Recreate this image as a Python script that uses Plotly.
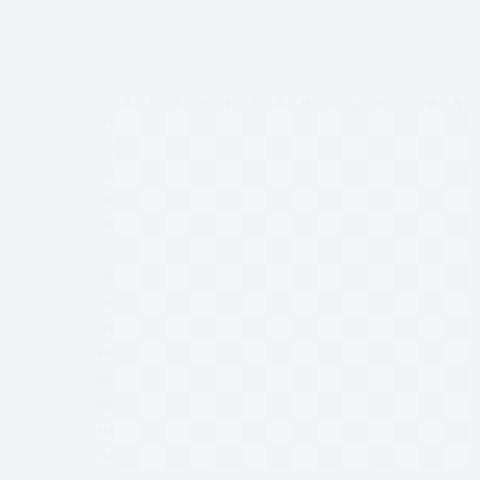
import plotly.graph_objects as go

# faint grid of cells, the reference is almost fully washed out
cols = ["A", "B", "C", "D", "E", "F", "G", "H", "I", "J", "K", "L", "M", "N"]
rows = ["r1", "r2", "r3", "r4", "r5", "r6", "r7", "r8", "r9", "r10", "r11", "r12", "r13", "r14"]
values = [
    [1, 2, 1, 2, 1, 2, 1, 2, 1, 2, 1, 2, 1, 2],
    [2, 1, 2, 1, 2, 1, 2, 1, 2, 1, 2, 1, 2, 1],
    [1, 2, 1, 2, 1, 2, 1, 2, 1, 2, 1, 2, 1, 2],
    [2, 1, 2, 1, 2, 1, 2, 1, 2, 1, 2, 1, 2, 1],
    [1, 2, 1, 2, 1, 2, 1, 2, 1, 2, 1, 2, 1, 2],
    [2, 1, 2, 1, 2, 1, 2, 1, 2, 1, 2, 1, 2, 1],
    [1, 2, 1, 2, 1, 2, 1, 2, 1, 2, 1, 2, 1, 2],
    [2, 1, 2, 1, 2, 1, 2, 1, 2, 1, 2, 1, 2, 1],
    [1, 2, 1, 2, 1, 2, 1, 2, 1, 2, 1, 2, 1, 2],
    [2, 1, 2, 1, 2, 1, 2, 1, 2, 1, 2, 1, 2, 1],
    [1, 2, 1, 2, 1, 2, 1, 2, 1, 2, 1, 2, 1, 2],
    [2, 1, 2, 1, 2, 1, 2, 1, 2, 1, 2, 1, 2, 1],
    [1, 2, 1, 2, 1, 2, 1, 2, 1, 2, 1, 2, 1, 2],
    [2, 1, 2, 1, 2, 1, 2, 1, 2, 1, 2, 1, 2, 1],
]

fig = go.Figure(go.Heatmap(
    x=cols, y=rows, z=values,
    colorscale=[[0, "#f3f6f6"], [1, "#f1f4f5"]],
    showscale=False, xgap=1, ygap=1,
    hoverinfo="skip",
))

fig.update_layout(
    width=480, height=480,
    paper_bgcolor="#f2f5f5", plot_bgcolor="#f2f5f5",
    margin=dict(l=115, r=10, t=110, b=10),
    font=dict(family="Open Sans", size=10, color="#eef1f2"),
    xaxis=dict(side="top", showgrid=False, zeroline=False, showline=False),
    yaxis=dict(autorange="reversed", showgrid=False, zeroline=False, showline=False),
)

fig.write_html(
    "out.html",
    config={"displayModeBar": False},
    post_script="document.body.style.margin='0';document.body.style.background='#f2f5f5';",
)
